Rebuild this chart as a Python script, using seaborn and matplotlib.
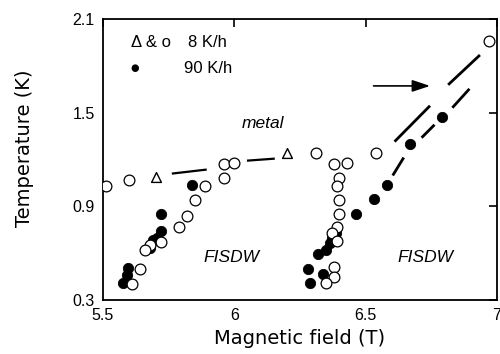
import numpy as np
import pandas as pd
import matplotlib
matplotlib.use("Agg")
import matplotlib.pyplot as plt
import seaborn as sns

# --- measured phase-boundary points -------------------------------------
# slow cooling (8 K/h), circles
slow_field = [5.51, 5.60, 5.96, 6.00, 5.96, 5.89, 5.85, 5.82, 5.79, 5.72, 5.68,
              5.66, 5.64, 5.61,
              6.31, 6.38, 6.43, 6.40, 6.39, 6.40, 6.40, 6.39, 6.37, 6.39, 6.38,
              6.38, 6.35, 6.54, 6.97]
slow_temp = [1.03, 1.07, 1.17, 1.18, 1.08, 1.03, 0.94, 0.84, 0.77, 0.67, 0.65,
             0.62, 0.50, 0.40,
             1.24, 1.17, 1.18, 1.08, 1.03, 0.94, 0.85, 0.77, 0.73, 0.68, 0.51,
             0.45, 0.41, 1.24, 1.96]

# slow cooling (8 K/h), triangles
tri_field = [5.70, 6.20]
tri_temp = [1.09, 1.24]

# fast cooling (90 K/h), filled dots
fast_field = [5.84, 5.72, 5.72, 5.705, 5.69, 5.68, 5.595, 5.59, 5.576,
              6.386, 6.37, 6.363, 6.35, 6.318, 6.28, 6.287, 6.337,
              6.462, 6.53, 6.58, 6.67, 6.79]
fast_temp = [1.04, 0.85, 0.74, 0.70, 0.683, 0.632, 0.504, 0.46, 0.41,
             0.728, 0.696, 0.664, 0.62, 0.594, 0.498, 0.408, 0.466,
             0.849, 0.945, 1.04, 1.30, 1.474]

# dashed guide lines (NaN separates the dashes)
metal_guide_x = [5.762, 5.895, np.nan, 6.048, 6.154]
metal_guide_y = [1.110, 1.136, np.nan, 1.193, 1.206]
upper_guide_x = [6.610, 6.745, np.nan, 6.814, 6.935]
upper_guide_y = [1.315, 1.545, np.nan, 1.679, 1.870]
lower_guide_x = [6.603, 6.645, np.nan, 6.713, 6.762, np.nan, 6.830, 6.895]
lower_guide_y = [1.098, 1.213, np.nan, 1.340, 1.423, np.nan, 1.532, 1.653]

x_ticks = [5.5, 6, 6.5, 7]
x_tick_labels = ["5.5", "6", "6.5", "7"]
y_ticks = [0.3, 0.9, 1.5, 2.1]
y_tick_labels = ["0.3", "0.9", "1.5", "2.1"]

slow = pd.DataFrame({"field": slow_field, "temp": slow_temp})
tri = pd.DataFrame({"field": tri_field, "temp": tri_temp})
fast = pd.DataFrame({"field": fast_field, "temp": fast_temp})

sns.set_theme(style="white")
plt.rcParams["font.family"] = ["Liberation Sans", "DejaVu Sans"]
plt.rcParams["text.color"] = "black"
plt.rcParams["axes.labelcolor"] = "black"

fig = plt.figure(figsize=(5.0, 3.54), dpi=100)
ax = fig.add_axes([0.206, 0.1525, 0.788, 0.7935])

# guide lines
ax.plot(metal_guide_x, metal_guide_y, color="black", lw=1.6, solid_capstyle="butt", zorder=2)
ax.plot(upper_guide_x, upper_guide_y, color="black", lw=2.0, solid_capstyle="butt", zorder=2)
ax.plot(lower_guide_x, lower_guide_y, color="black", lw=2.0, solid_capstyle="butt", zorder=2)

sns.scatterplot(data=fast, x="field", y="temp", ax=ax, s=55, marker="o",
                color="black", edgecolor="black", linewidth=0.6, zorder=3, legend=False)
sns.scatterplot(data=slow, x="field", y="temp", ax=ax, s=60, marker="o",
                facecolor="white", edgecolor="black", linewidth=0.9, zorder=4, legend=False)
sns.scatterplot(data=tri, x="field", y="temp", ax=ax, s=50, marker="^",
                facecolor="white", edgecolor="black", linewidth=1.0, zorder=4, legend=False)

# arrow marking the transition line
ax.annotate("", xy=(6.745, 1.672), xytext=(6.53, 1.672),
            arrowprops=dict(arrowstyle="-|>,head_length=0.9,head_width=0.3",
                            color="black", lw=1.2, shrinkA=0, shrinkB=0))

# region labels
ax.text(6.108, 1.43, "metal", style="italic", fontsize=12.5, ha="center", va="center")
ax.text(5.99, 0.574, "FISDW", style="italic", fontsize=12.5, ha="center", va="center")
ax.text(6.728, 0.574, "FISDW", style="italic", fontsize=12.5, ha="center", va="center")

# legend written as text
ax.text(5.605, 1.95, "Δ & o", fontsize=12, ha="left", va="center")
ax.text(5.825, 1.95, "8 K/h", fontsize=12, ha="left", va="center")
ax.text(5.62, 1.785, "●", fontsize=7, ha="center", va="center", family="DejaVu Sans")
ax.text(5.81, 1.785, "90 K/h", fontsize=12, ha="left", va="center")

ax.set_xlim(5.5, 7.0)
ax.set_ylim(0.3, 2.1)
ax.set_xticks(x_ticks)
ax.set_xticklabels(x_tick_labels)
ax.set_yticks(y_ticks)
ax.set_yticklabels(y_tick_labels)
ax.tick_params(direction="in", length=6, width=1.2, top=True, right=True,
               labelsize=11.5, colors="black", pad=6)
for s in ax.spines.values():
    s.set_color("black")
    s.set_linewidth(1.3)

ax.set_xlabel("Magnetic field (T)", fontsize=14, family="DejaVu Sans", labelpad=4)
ax.set_ylabel("Temperature (K)", fontsize=14, family="DejaVu Sans")
ax.yaxis.set_label_coords(-0.175, 0.54)

fig.savefig("out.png", dpi=100, facecolor="white")
